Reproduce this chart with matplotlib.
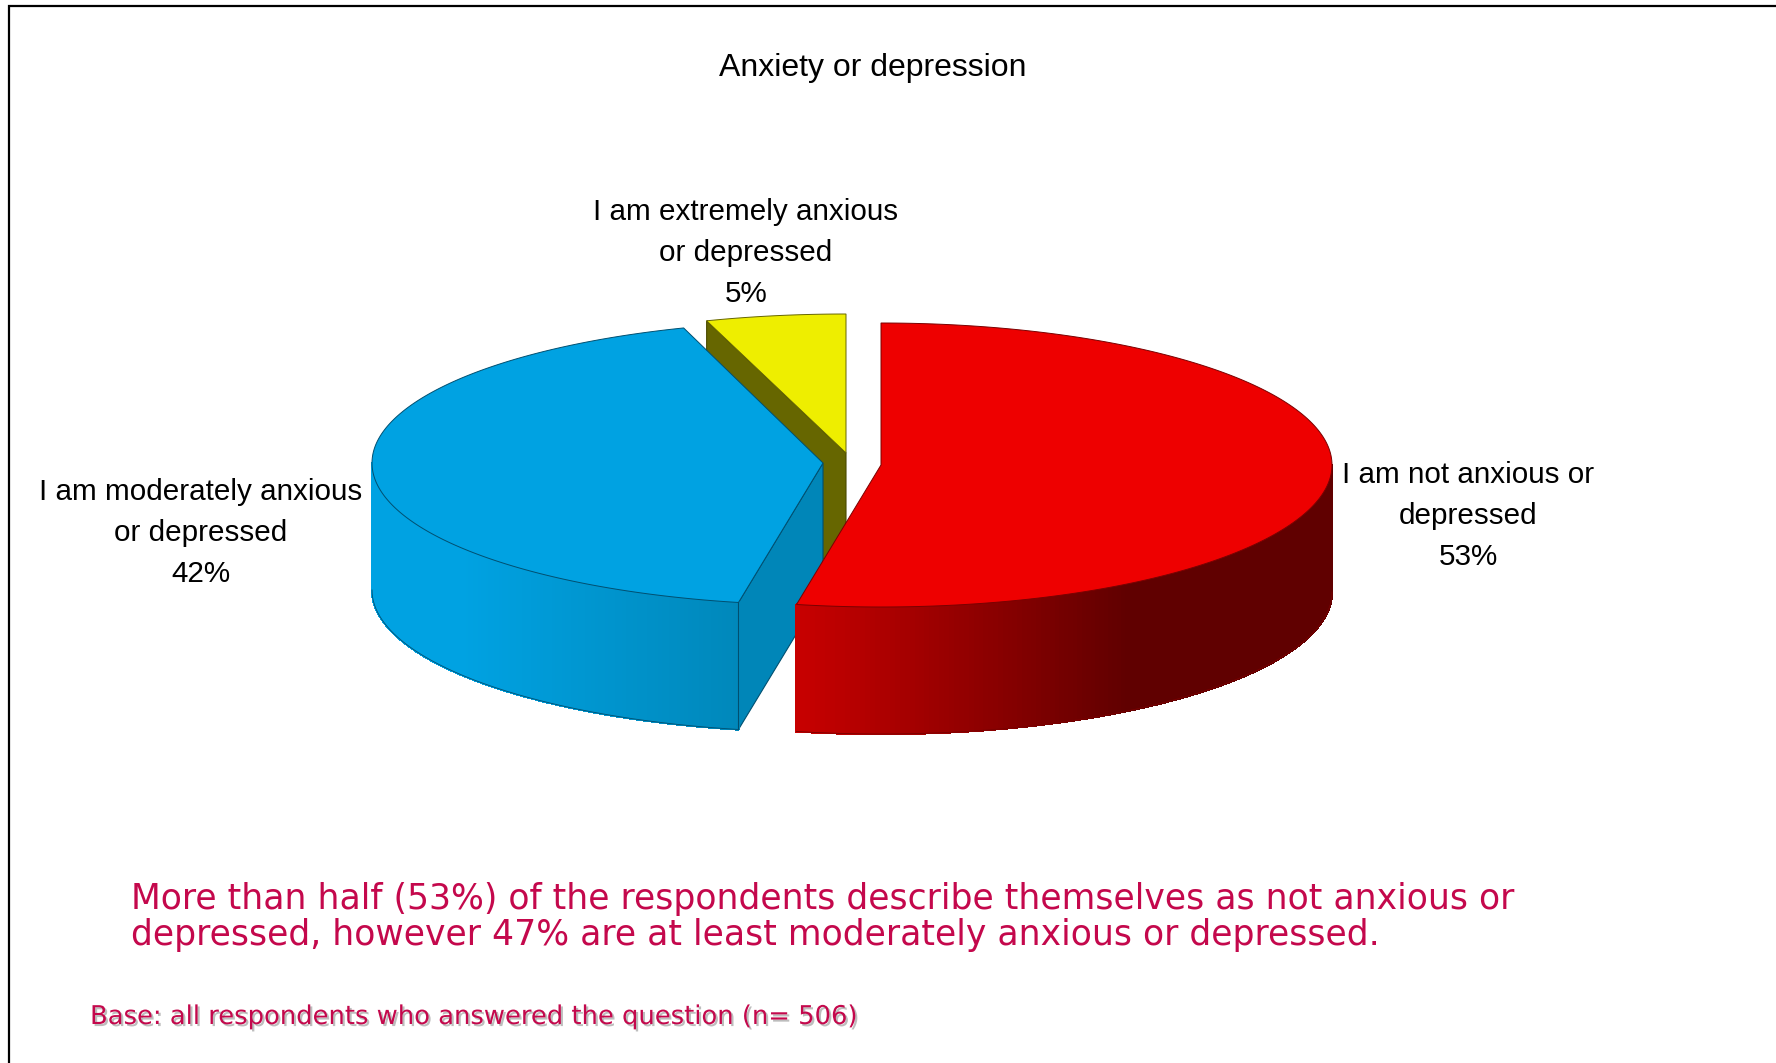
import numpy as np
import matplotlib
matplotlib.use('Agg')
import matplotlib.pyplot as plt
import matplotlib.patheffects as pe
from matplotlib.colors import LinearSegmentedColormap

title = 'Anxiety or depression'
categories = ['I am not anxious or\ndepressed', 'I am moderately anxious\nor depressed', 'I am extremely anxious\nor depressed']
shares = [53, 42, 5]
note = 'More than half (53%) of the respondents describe themselves as not anxious or\ndepressed, however 47% are at least moderately anxious or depressed.'
base = 'Base: all respondents who answered the question (n= 506)'

RX, DEPTH = 451, 127
RY = [142, 142, 139]
apex = [(881, 465), (823, 463), (846, 453)]
label_pos = [(1468, 516), (201, 533), (746, 253)]
top_col = ['#ee0000', '#00a2e2', '#eeee00']
edge_col = ['#7a0000', '#004f70', '#666600']
rim_cmap = [LinearSegmentedColormap.from_list('r', [(0, '#c80000'), (0.62, '#600000'), (1, '#600000')], N=256),
            LinearSegmentedColormap.from_list('b', [(0, '#00a2e2'), (0.25, '#00a2e2'), (1, '#0088bb')], N=256)]
TEXT_RED = '#c4084c'
LABEL_FONT = 'Liberation Sans'

fig = plt.figure(figsize=(17.76, 10.63), dpi=100)
ax = fig.add_axes([0, 0, 1, 1])
ax.set_xlim(0, 1776)
ax.set_ylim(1063, 0)
ax.axis('off')

# outer frame, only left and top are inside the picture
ax.plot([9, 9, 1776], [1063, 6, 6], color='black', lw=1.6, solid_joinstyle='miter')


def ell(i, t):
    t = np.radians(t)
    return apex[i][0] + RX * np.cos(t), apex[i][1] - RY[i] * np.sin(t)


# slice angles from the values, clockwise from 12 o'clock
ends = 90 - 3.6 * np.cumsum(shares)
starts = np.r_[90, ends[:-1]]

# draw back to front: yellow, blue, red
for i in [2, 1, 0]:
    c = apex[i]
    t = np.linspace(starts[i], ends[i], 200)
    x, y = ell(i, t)

    # cut face on the side that looks at the viewer
    if i == 2:
        lx, ly = ell(i, starts[i])
        ax.fill([lx, c[0], c[0], lx], [ly, c[1], c[1] + DEPTH, ly + DEPTH], color='#666600', lw=0.8, ec='#4a4a00')
    if i == 1:
        rx, ry = ell(i, starts[i])
        ax.fill([rx, c[0], c[0], rx], [ry, c[1], c[1] + DEPTH, ry + DEPTH], color='#0086b8', lw=0.8, ec='#004f70')

    # outer rim, lower half of the ellipse only
    if i < 2:
        if i == 0:
            lo, hi = ends[i] + 360, 360
        else:
            lo, hi = 180, starts[i] + 360
        ts = np.linspace(lo, hi, 160)
        xs, ys = ell(i, ts)
        xmin, xmax = xs.min(), xs.max()
        for k in range(len(ts) - 1):
            col = rim_cmap[i](((xs[k] + xs[k + 1]) / 2 - xmin) / (xmax - xmin))
            ax.fill([xs[k], xs[k + 1], xs[k + 1], xs[k]],
                    [ys[k], ys[k + 1], ys[k + 1] + DEPTH, ys[k] + DEPTH], color=col, lw=1, ec=col, antialiased=False)
        ax.plot(xs, ys + DEPTH, color=edge_col[i], lw=0.6)
        if i == 1:
            ax.plot([xs[-1], xs[-1]], [ys[-1], ys[-1] + DEPTH], color=edge_col[i], lw=0.8)

    # top face
    ax.fill(np.r_[c[0], x], np.r_[c[1], y], facecolor=top_col[i], edgecolor=edge_col[i], lw=0.7)

ax.text(873, 68, title, ha='center', va='center', fontsize=23, family=LABEL_FONT, color='black')
for cat, sh, (lx, ly) in zip(categories, shares, label_pos):
    ax.text(lx, ly, f'{cat}\n{sh}%', ha='center', va='center', fontsize=21.3, family=LABEL_FONT,
            color='black', linespacing=1.61)

ax.text(131, 917, note, ha='left', va='center', fontsize=24.95, family='DejaVu Sans', color=TEXT_RED, linespacing=1.08)
ax.text(90, 1017, base, ha='left', va='center', fontsize=18.6, family='DejaVu Sans', color=TEXT_RED,
        path_effects=[pe.withSimplePatchShadow(offset=(1.5, -1.5), shadow_rgbFace='#bdbdbd', alpha=1)])

fig.savefig('out.png', dpi=100)
